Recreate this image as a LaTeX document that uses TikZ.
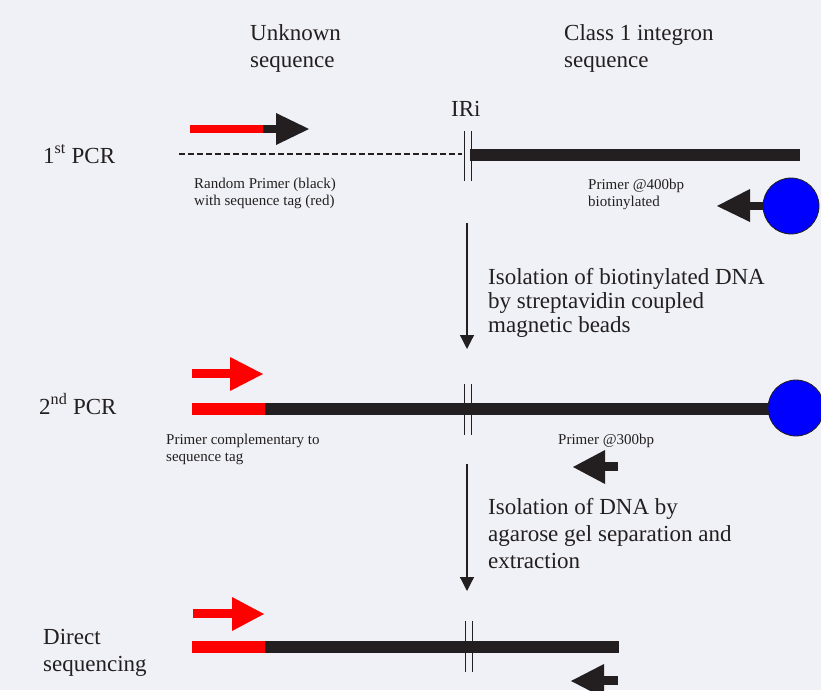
\documentclass[tikz,border=0pt]{standalone}
\usepackage{fontspec}
\setmainfont{Liberation Serif}
\usetikzlibrary{arrows.meta}
\definecolor{bg}{RGB}{240,241,246}
\definecolor{ink}{RGB}{35,31,32}
\begin{document}
\begin{tikzpicture}[x=1pt,y=-1pt,
  big/.style={anchor=base west, inner sep=0pt, text=ink, font=\fontsize{23}{27}\selectfont, align=left},
  bigtight/.style={big, font=\fontsize{23}{24}\selectfont},
  small/.style={anchor=base west, inner sep=0pt, text=ink, font=\fontsize{15}{17}\selectfont, align=left},
  strand/.style={line width=12pt, ink},
  tagstrand/.style={line width=12pt, red},
  irline/.style={line width=1pt, ink},
  template/.style={line width=1.3pt, ink, dash pattern=on 6pt off 3pt},
  flow/.style={line width=1.2pt, ink, -{Triangle[length=14pt,width=14pt]}},
  bead/.style={circle, fill=blue, draw=ink, line width=0.8pt, minimum size=56pt, inner sep=0pt}]
\useasboundingbox (0,0) rectangle (821,690);
\fill[bg] (0,0) rectangle (821,690);

% column headers (multi-line nodes: base = last line)
\node[big] (hunk) at (250,68) {Unknown\\sequence};
\node[big] (hint) at (564,68) {Class 1 integron\\sequence};
\node[big] (iri) at (451,117) {IRi};

% ---------- 1st PCR ----------
\node[big] (pcr1) at (43,163) {1\textsuperscript{st} PCR};
% random primer with tag
\fill[red] (190,125) rectangle (264,133);
\fill[ink] (263,125) rectangle (277,133);
\fill[ink] (276,113) -- (309,129) -- (276,145) -- cycle;
% template
\coordinate (d1s) at (179,154);
\coordinate (d1e) at (462,154);
\draw[template] (d1s) -- (d1e);
\coordinate (s1s) at (470,155);
\coordinate (s1e) at (800,155);
\draw[strand] (s1s) -- (s1e);
\draw[irline] (464,131) -- (464,181);
\draw[irline] (471,131) -- (471,181);
\node[small] (lrand) at (194,205) {Random Primer (black)\\with sequence tag (red)};
\node[small] (l400) at (588,206) {Primer @400bp\\biotinylated};
% biotinylated primer
\fill[ink] (749,202) rectangle (770,210);
\fill[ink] (750,189) -- (717,206) -- (750,222) -- cycle;
\node[bead] (bead1) at (791,206) {};

% flow arrow 1
\coordinate (f1s) at (467,223);
\coordinate (f1e) at (467,349);
\draw[flow] (f1s) -- (f1e);
\node[bigtight] (iso1) at (488,332) {Isolation of biotinylated DNA\\by streptavidin coupled\\magnetic beads};

% ---------- 2nd PCR ----------
\node[big] (pcr2) at (39,414) {2\textsuperscript{nd} PCR};
\fill[red] (192,369) rectangle (231,378);
\fill[red] (230,357) -- (263,374) -- (230,391) -- cycle;
\coordinate (r2s) at (192,409);
\coordinate (r2m) at (265,409);
\coordinate (r2e) at (780,409);
\draw[tagstrand] (r2s) -- (r2m);
\draw[strand] (r2m) -- (r2e);
\draw[irline] (464,384) -- (464,435);
\draw[irline] (471,384) -- (471,435);
\node[bead] (bead2) at (796,408) {};
\node[small] (lcomp) at (166,461) {Primer complementary to\\sequence tag};
\node[small] (l300) at (558,444) {Primer @300bp};
\fill[ink] (604,462) rectangle (618,471);
\fill[ink] (605,450) -- (573,467) -- (605,484) -- cycle;

% flow arrow 2
\coordinate (f2s) at (467,464);
\coordinate (f2e) at (467,591);
\draw[flow] (f2s) -- (f2e);
\node[big] (iso2) at (488,568) {Isolation of DNA by\\agarose gel separation and\\extraction};

% ---------- Direct sequencing ----------
\node[big] (dseq) at (43,671) {Direct\\sequencing};
\fill[red] (193,609) rectangle (233,618);
\fill[red] (232,597) -- (264,614) -- (232,631) -- cycle;
\coordinate (r3s) at (192,647);
\coordinate (r3m) at (265,647);
\coordinate (r3e) at (619,647);
\draw[tagstrand] (r3s) -- (r3m);
\draw[strand] (r3m) -- (r3e);
\draw[irline] (465,621) -- (465,672);
\draw[irline] (472,621) -- (472,672);
\fill[ink] (603,676) rectangle (618,685);
\fill[ink] (604,664) -- (571,681) -- (604,698) -- cycle;
\end{tikzpicture}
\end{document}
